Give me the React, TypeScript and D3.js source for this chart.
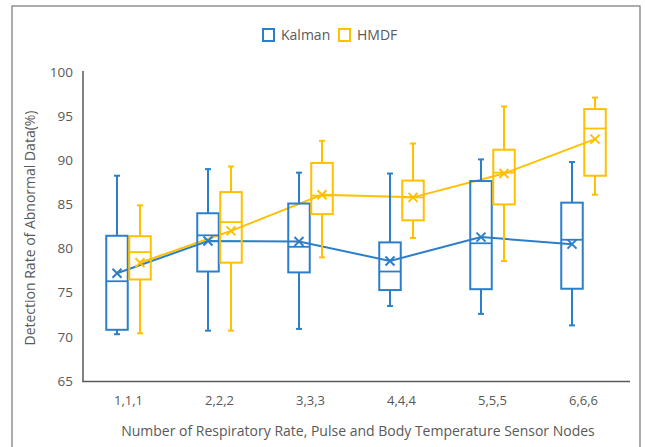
import * as React from "react";
import * as d3 from "d3";

const categories = ["1,1,1", "2,2,2", "3,3,3", "4,4,4", "5,5,5", "6,6,6"];
const yTickValues = [65, 70, 75, 80, 85, 90, 95, 100];

// Kalman box stats per category
const kalmanMin = [70.3, 70.7, 70.9, 73.5, 72.6, 71.3];
const kalmanQ1 = [70.8, 77.4, 77.3, 75.3, 75.4, 75.45];
const kalmanMedian = [76.3, 81.5, 80.2, 77.4, 80.6, 81.0];
const kalmanQ3 = [81.45, 84.0, 85.1, 80.7, 87.65, 85.2];
const kalmanMax = [88.25, 89.0, 88.6, 88.5, 90.1, 89.8];
const kalmanMean = [77.2, 80.85, 80.8, 78.6, 81.3, 80.5];

// HMDF box stats per category
const hmdfMin = [70.4, 70.7, 79.0, 81.2, 78.6, 86.1];
const hmdfQ1 = [76.5, 78.4, 83.9, 83.2, 85.0, 88.25];
const hmdfMedian = [79.6, 83.0, 86.0, 85.8, 88.6, 93.6];
const hmdfQ3 = [81.4, 86.4, 89.7, 87.7, 91.2, 95.8];
const hmdfMax = [84.9, 89.3, 92.2, 91.9, 96.1, 97.1];
const hmdfMean = [78.4, 82.0, 86.1, 85.8, 88.5, 92.4];

const seriesNames = ["Kalman", "HMDF"];
const seriesColors = ["#2B7FCA", "#FFC000"];

function App() {
    const ref = React.useRef<SVGSVGElement>(null);

    React.useEffect(() => {
        const svg = d3.select(ref.current);
        svg.selectAll("*").remove();

        const textColor = "#595959";
        const font = "'Open Sans', sans-serif";

        const x = d3.scaleBand().domain(categories).range([83, 629]);
        const y = d3.scaleLinear().domain([65, 100]).range([381, 72]);

        const boxW = 21.5;
        const offsets = [-11.5, 11.5];

        const series = [
            { min: kalmanMin, q1: kalmanQ1, med: kalmanMedian, q3: kalmanQ3, max: kalmanMax, mean: kalmanMean },
            { min: hmdfMin, q1: hmdfQ1, med: hmdfMedian, q3: hmdfQ3, max: hmdfMax, mean: hmdfMean },
        ];

        // outer frame
        svg.append("rect")
            .attr("x", 12).attr("y", 6)
            .attr("width", 628).attr("height", 460)
            .attr("fill", "#fff")
            .attr("stroke", "#808080")
            .attr("stroke-width", 1.3);

        // y tick labels
        svg.append("g")
            .selectAll("text")
            .data(yTickValues)
            .enter()
            .append("text")
            .attr("x", 73)
            .attr("y", d => y(d))
            .attr("dy", "0.35em")
            .attr("text-anchor", "end")
            .attr("fill", textColor)
            .style("font-family", font)
            .style("font-size", "13.5px")
            .text(d => d);

        // x labels
        svg.append("g")
            .selectAll("text")
            .data(categories)
            .enter()
            .append("text")
            .attr("x", d => (x(d) as number) + x.bandwidth() / 2)
            .attr("y", 405)
            .attr("text-anchor", "middle")
            .attr("fill", textColor)
            .style("font-family", font)
            .style("font-size", "13px")
            .text(d => d);

        // axis titles
        svg.append("text")
            .attr("x", 358).attr("y", 436)
            .attr("text-anchor", "middle")
            .attr("fill", textColor)
            .style("font-family", font)
            .style("font-size", "14px")
            .text("Number of Respiratory Rate, Pulse and Body Temperature Sensor Nodes");

        svg.append("text")
            .attr("transform", "translate(35,228) rotate(-90)")
            .attr("text-anchor", "middle")
            .attr("fill", textColor)
            .style("font-family", font)
            .style("font-size", "14px")
            .text("Detection Rate of Abnormal Data(%)");

        // axis lines
        svg.append("line")
            .attr("x1", 83).attr("x2", 83).attr("y1", 71).attr("y2", 381.5)
            .attr("stroke", "#595959").attr("stroke-width", 1.5);
        svg.append("line")
            .attr("x1", 82.3).attr("x2", 630).attr("y1", 381.5).attr("y2", 381.5)
            .attr("stroke", "#595959").attr("stroke-width", 1.5);

        // mean lines first (behind boxes' X markers)
        series.forEach((s, si) => {
            const line = d3.line<number>()
                .x((d, i) => (x(categories[i]) as number) + x.bandwidth() / 2 + offsets[si])
                .y(d => y(d));
            svg.append("path")
                .attr("d", line(s.mean))
                .attr("fill", "none")
                .attr("stroke", seriesColors[si])
                .attr("stroke-width", 2);
        });

        series.forEach((s, si) => {
            const color = seriesColors[si];
            const g = svg.append("g");
            categories.forEach((c, i) => {
                const cx = (x(c) as number) + x.bandwidth() / 2 + offsets[si];
                // whiskers
                g.append("line")
                    .attr("x1", cx).attr("x2", cx)
                    .attr("y1", y(s.max[i])).attr("y2", y(s.q3[i]))
                    .attr("stroke", color).attr("stroke-width", 2);
                g.append("line")
                    .attr("x1", cx).attr("x2", cx)
                    .attr("y1", y(s.q1[i])).attr("y2", y(s.min[i]))
                    .attr("stroke", color).attr("stroke-width", 2);
                [s.max[i], s.min[i]].forEach(v => {
                    g.append("line")
                        .attr("x1", cx - 3).attr("x2", cx + 3)
                        .attr("y1", y(v)).attr("y2", y(v))
                        .attr("stroke", color).attr("stroke-width", 2);
                });
                // box
                g.append("rect")
                    .attr("x", cx - boxW / 2)
                    .attr("y", y(s.q3[i]))
                    .attr("width", boxW)
                    .attr("height", y(s.q1[i]) - y(s.q3[i]))
                    .attr("fill", "none")
                    .attr("stroke", color)
                    .attr("stroke-width", 2);
                // median
                g.append("line")
                    .attr("x1", cx - boxW / 2).attr("x2", cx + boxW / 2)
                    .attr("y1", y(s.med[i])).attr("y2", y(s.med[i]))
                    .attr("stroke", color).attr("stroke-width", 1.8);
                // mean marker
                const my = y(s.mean[i]);
                const r = 4.5;
                g.append("path")
                    .attr("d", `M${cx - r},${my - r}L${cx + r},${my + r}M${cx - r},${my + r}L${cx + r},${my - r}`)
                    .attr("stroke", color)
                    .attr("stroke-width", 2)
                    .attr("fill", "none");
            });
        });

        // legend
        const legendX = [263, 339];
        seriesNames.forEach((name, i) => {
            svg.append("rect")
                .attr("x", legendX[i]).attr("y", 29)
                .attr("width", 11).attr("height", 12)
                .attr("fill", "none")
                .attr("stroke", seriesColors[i])
                .attr("stroke-width", 2);
            svg.append("text")
                .attr("x", legendX[i] + 18).attr("y", 35)
                .attr("dy", "0.35em")
                .attr("fill", textColor)
                .style("font-family", font)
                .style("font-size", "14px")
                .text(name);
        });
    }, []);

    return (
        <svg
            ref={ref}
            width={645}
            height={447}
            style={{ position: "absolute", left: 0, top: 0, background: "#fff" }}
        />
    );
}

export default App;
